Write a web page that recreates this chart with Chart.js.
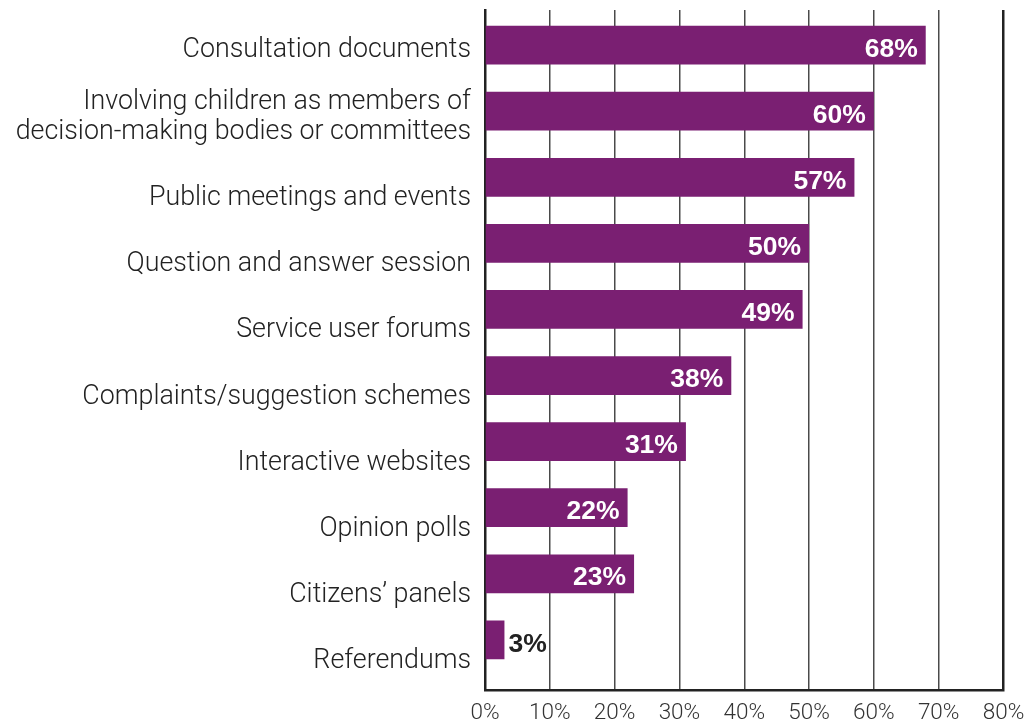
<!DOCTYPE html>
<html>
<head>
<meta charset="utf-8">
<script src="https://cdn.jsdelivr.net/npm/chart.js@4.4.0/dist/chart.umd.min.js"></script>
<style>
  html, body { margin: 0; padding: 0; background: #ffffff; }
  #wrap { width: 1026px; height: 725px; position: relative; }
</style>
</head>
<body>
<div id="wrap"><canvas id="chart"></canvas></div>
<script>
// Ways children and young people are involved (share of respondents)
const categories = [
  'Consultation documents',
  ['Involving children as members of', 'decision-making bodies or committees'],
  'Public meetings and events',
  'Question and answer session',
  'Service user forums',
  'Complaints/suggestion schemes',
  'Interactive websites',
  'Opinion polls',
  'Citizens\u2019 panels',
  'Referendums'
];
const shares = [68, 60, 57, 50, 49, 38, 31, 22, 23, 3];
const xTickValues = [0, 10, 20, 30, 40, 50, 60, 70, 80];

const BAR_COLOR = '#7a1f72';
const TEXT_COLOR = '#222222';
const LABEL_FONT = '300 26.8px Roboto';
const VALUE_FONT = 'bold 26.5px "Liberation Sans", Arial, sans-serif';

// Category names, right-aligned against the left axis
const categoryLabels = {
  id: 'categoryLabels',
  afterDraw(chart) {
    const { ctx, chartArea, scales } = chart;
    const y = scales.y;
    ctx.save();
    ctx.font = LABEL_FONT;
    ctx.fillStyle = TEXT_COLOR;
    ctx.textAlign = 'right';
    ctx.textBaseline = 'alphabetic';
    const x = chartArea.left - 14;
    categories.forEach((label, i) => {
      const centre = y.getPixelForValue(i);
      const lines = Array.isArray(label) ? label : [label];
      const first = i === 0 ? 11.5 : (lines.length > 1 ? -2.5 : 28);
      lines.forEach((line, k) => ctx.fillText(line, x, centre + first + k * 30.5));
    });
    ctx.restore();
  }
};

// Percentage printed on each bar (outside the bar when it is too short)
const valueLabels = {
  id: 'valueLabels',
  afterDatasetsDraw(chart) {
    const { ctx } = chart;
    const meta = chart.getDatasetMeta(0);
    ctx.save();
    ctx.font = VALUE_FONT;
    ctx.textBaseline = 'alphabetic';
    meta.data.forEach((bar, i) => {
      const v = shares[i];
      const text = v + '%';
      if (v >= 10) {
        ctx.fillStyle = '#ffffff';
        ctx.textAlign = 'right';
        ctx.fillText(text, bar.x - 8, bar.y + 11.5);
      } else {
        ctx.fillStyle = TEXT_COLOR;
        ctx.textAlign = 'left';
        ctx.fillText(text, bar.x + 4, bar.y + 12);
      }
    });
    ctx.restore();
  }
};

new Chart(document.getElementById('chart'), {
  type: 'bar',
  data: {
    datasets: [{
      data: shares.map((v, i) => ({ x: v, y: i })),
      backgroundColor: BAR_COLOR,
      borderWidth: 0,
      barPercentage: 0.587,
      categoryPercentage: 1
    }]
  },
  options: {
    indexAxis: 'y',
    responsive: true,
    maintainAspectRatio: false,
    animation: false,
    events: [],
    layout: { padding: { top: 10, right: 22.5, bottom: 0, left: 0 } },
    plugins: {
      legend: { display: false },
      tooltip: { enabled: false }
    },
    scales: {
      x: {
        type: 'linear',
        position: 'bottom',
        min: 0,
        max: 80,
        afterBuildTicks: (s) => { s.ticks = xTickValues.map(v => ({ value: v })); },
        afterFit: (s) => { s.height = 35; s.paddingLeft = 0; s.paddingRight = 0; },
        ticks: {
          callback: (v) => v + '%',
          color: '#333333',
          font: { family: 'Roboto', weight: '300', size: 22.5 },
          padding: 10,
          maxRotation: 0
        },
        grid: {
          drawTicks: false,
          color: (c) => (c.tick && (c.tick.value === 80) ? '#222222' : '#4a4a4a'),
          lineWidth: (c) => (c.tick && (c.tick.value === 80) ? 2.5 : 1.5)
        },
        border: { color: '#222222', width: 2.5 }
      },
      y: {
        type: 'linear',
        reverse: true,
        offset: false,
        min: -0.532,
        max: 9.759,
        afterBuildTicks: (s) => { s.ticks = categories.map((_, i) => ({ value: i })); },
        afterFit: (s) => { s.width = 485; },
        ticks: { display: false },
        grid: { display: false, offset: false },
        border: { color: '#222222', width: 2.5 }
      }
    }
  },
  plugins: [categoryLabels, valueLabels]
});
</script>
</body>
</html>
